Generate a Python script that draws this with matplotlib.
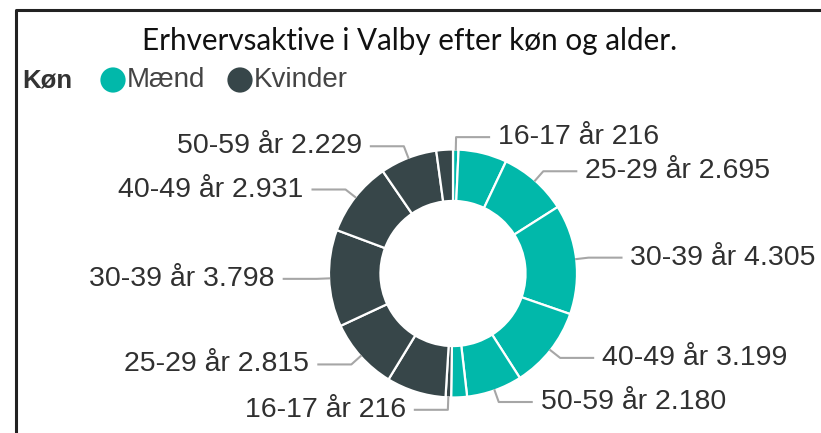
import matplotlib.pyplot as plt
import numpy as np

# Erhvervsaktive i Valby efter køn og alder
ages = ['16-17 år', '18-24 år', '25-29 år', '30-39 år', '40-49 år', '50-59 år', '60-64 år']
maend = [216, 1900, 2695, 4305, 3199, 2180, 620]
kvinder = [216, 2330, 2815, 3798, 2931, 2229, 650]
# Power BI hides labels that don't fit
show_label = [True, False, True, True, True, True, False]

teal = '#01B8AA'
dark = '#374649'
txt = '#303030'
line_col = '#a6a6a6'

W, H = 821, 433
fig = plt.figure(figsize=(W / 100, H / 100), dpi=100)
ax = fig.add_axes([0, 0, 1, 1])

# frame (top and left edges visible)
ax.plot([15.5, 15.5, W], [0, H - 10, H - 10], color='#222222', lw=2.2, solid_capstyle='butt')

cx, cy, R = 453, H - 273.5, 124
values = maend + kvinder
colors = [teal] * len(maend) + [dark] * len(kvinder)
wedges, _ = ax.pie(values, colors=colors, startangle=90, counterclock=False,
                   center=(cx, cy), radius=R, frame=True,
                   wedgeprops=dict(width=R * 0.415, edgecolor='white', linewidth=1.6))
ax.set_xlim(0, W)
ax.set_ylim(0, H)
ax.set_aspect('equal')
ax.axis('off')

labels = [f'{a} {v:,}'.replace(',', '.') for a, v in zip(ages, maend)] + \
         [f'{a} {v:,}'.replace(',', '.') for a, v in zip(ages, kvinder)]
shows = show_label + show_label

for w, lab, show in zip(wedges, labels, shows):
    if not show:
        continue
    ang = np.deg2rad((w.theta1 + w.theta2) / 2)
    x0, y0 = cx + R * np.cos(ang), cy + R * np.sin(ang)
    x1, y1 = cx + R * 1.1 * np.cos(ang), cy + R * 1.1 * np.sin(ang)
    side = 1 if np.cos(ang) >= 0 else -1
    x2 = x1 + side * 33
    ax.plot([x0, x1, x2], [y0, y1, y1], color=line_col, lw=1.5, zorder=1)
    ax.text(x2 + side * 9, y1, lab, ha='left' if side > 0 else 'right', va='center',
            fontsize=20.5, family='Liberation Sans', color=txt)

# title
fig.text(410 / W, 1 - 41 / H, 'Erhvervsaktive i Valby efter køn og alder.',
         ha='center', va='center', fontsize=21.3, family='Lato', color='#111111')

# legend
ly = 1 - 80 / H
fig.text(22 / W, ly, 'Køn', ha='left', va='center', fontsize=18.5,
         family='Liberation Sans', weight='bold', color='#333333')
ax.scatter([113, 240], [H - 80, H - 80], s=330, c=[teal, dark], linewidths=0)
fig.text(127 / W, ly, 'Mænd', ha='left', va='center', fontsize=20,
         family='Liberation Sans', color='#444444')
fig.text(254 / W, ly, 'Kvinder', ha='left', va='center', fontsize=20,
         family='Liberation Sans', color='#444444')

fig.savefig('out.png', dpi=100)
